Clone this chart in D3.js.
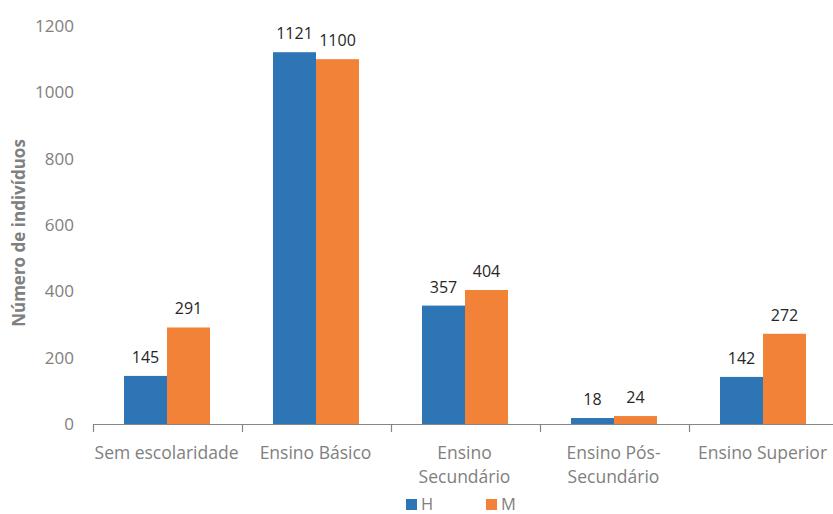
<!DOCTYPE html>
<html><head><meta charset="utf-8">
<script src="https://cdn.jsdelivr.net/npm/d3@7"></script>
<style>body{margin:0;background:#fff}svg text{font-family:"Open Sans",sans-serif}</style>
</head><body><svg id="c" width="833" height="514"></svg>
<script>
const categories = [["Sem escolaridade"],["Ensino Básico"],["Ensino","Secundário"],["Ensino Pós-","Secundário"],["Ensino Superior"]];
const seriesNames = ["H","M"];
const valuesH = [145,1121,357,18,142];
const valuesM = [291,1100,404,24,272];
const yTicks = [0,200,400,600,800,1000,1200];
const colors = ["#2E75B6","#F28238"];

const svg = d3.select("#c");
const mLeft = 93, mRight = 838, mTop = 26, mBottom = 424;
const keys = categories.map((c,i)=>i);
const x = d3.scaleBand().domain(keys).range([mLeft, mRight]).padding(0);
const y = d3.scaleLinear().domain([0,1200]).range([mBottom, mTop]);
const inner = d3.scaleBand().domain([0,1]).range([31, x.bandwidth()-32]);
const series = [valuesH, valuesM];

// y tick labels
svg.append("g").selectAll("text").data(yTicks).join("text")
  .attr("x", 74).attr("y", d=>y(d)).attr("dy","0.36em")
  .attr("text-anchor","end").attr("fill","#808080").attr("font-size",17)
  .text(d=>d);

// axis title
svg.append("text").attr("transform",`translate(25,233) rotate(-90)`)
  .attr("text-anchor","middle").attr("fill","#808080").attr("font-size",17)
  .attr("font-weight","bold").text("Número de indivíduos");

// bars
series.forEach((vals,s)=>{
  svg.append("g").selectAll("rect").data(vals).join("rect")
    .attr("x",(d,i)=>x(i)+inner(s)).attr("width",inner.bandwidth())
    .attr("y",d=>y(d)).attr("height",d=>mBottom-y(d))
    .attr("fill",colors[s]);
  svg.append("g").selectAll("text").data(vals).join("text")
    .attr("x",(d,i)=>x(i)+inner(s)+inner.bandwidth()/2)
    .attr("y",d=>y(d)-13)
    .attr("text-anchor","middle").attr("fill","#262626").attr("font-size",16)
    .text(d=>d);
});

// x axis
const ax = svg.append("g");
ax.append("line").attr("x1",mLeft).attr("x2",833).attr("y1",mBottom+0.5).attr("y2",mBottom+0.5)
  .attr("stroke","#868686").attr("stroke-width",1.2);
ax.selectAll("line.t").data(keys).join("line").attr("class","t")
  .attr("x1",d=>Math.round(x(d))+0.5).attr("x2",d=>Math.round(x(d))+0.5)
  .attr("y1",mBottom).attr("y2",mBottom+8).attr("stroke","#868686").attr("stroke-width",1.2);

const lab = ax.selectAll("text.c").data(categories).join("text").attr("class","c")
  .attr("text-anchor","middle").attr("fill","#808080").attr("font-size",17.5);
lab.each(function(lines,i){
  d3.select(this).selectAll("tspan").data(lines).join("tspan")
    .attr("x", x(i)+x.bandwidth()/2 - 1).attr("y",(d,j)=>459+j*24).text(d=>d);
});

// legend
const lg = svg.append("g");
const lx = [406,486];
seriesNames.forEach((n,i)=>{
  lg.append("rect").attr("x",lx[i]).attr("y",499).attr("width",11).attr("height",11).attr("fill",colors[i]);
  lg.append("text").attr("x",lx[i]+15).attr("y",510).attr("fill","#808080").attr("font-size",16.5).text(n);
});
</script></body></html>
